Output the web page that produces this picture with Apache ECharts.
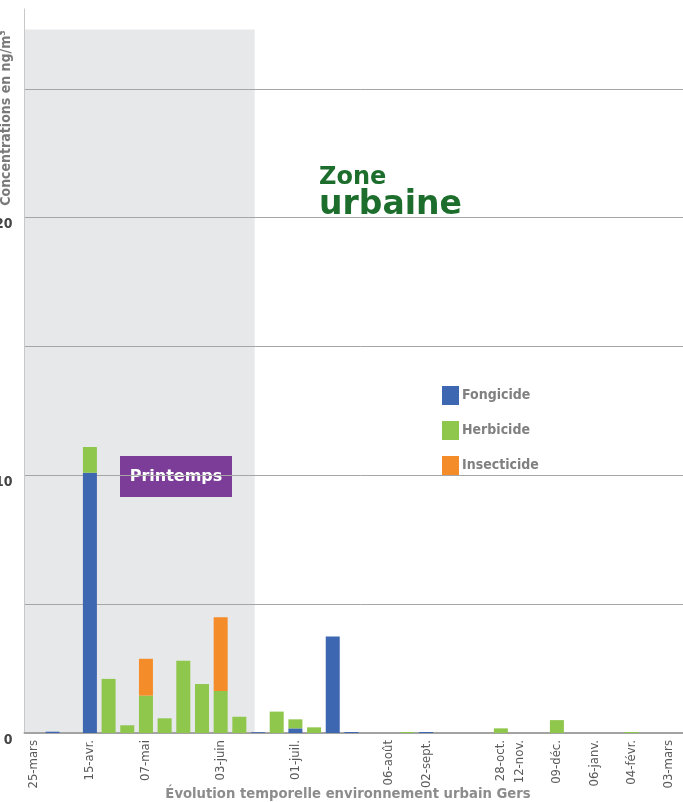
<!DOCTYPE html>
<html><head><meta charset="utf-8">
<script src="https://cdn.jsdelivr.net/npm/echarts@6/dist/echarts.min.js"></script>
<style>html,body{margin:0;padding:0;overflow:hidden;background:#fff;width:683px;height:802px}
#c{position:absolute;left:-8px;top:0;width:705px;height:802px}</style>
</head><body><div id="c"></div>
<script>
// 36 sampling slots (the last one falls outside the visible crop)
const categories = Array.from({length: 36}, (_, i) => 'c' + i);
const tickLabels = ['25-mars','','','15-avr.','','','07-mai','','','','03-juin','','','','01-juil.','','','','','06-août','','02-sept.','','','','28-oct.','12-nov.','','09-déc.','','06-janv.','','04-févr.','','03-mars',''];
const fongicide   = [0,0.05,0,10.1,0,0,0,0,0,0,0,0,0.03,0,0.18,0,3.75,0.04,0,0,0,0.04,0,0,0,0,0,0,0,0,0,0,0,0,0,null];
const herbicide   = [0,0,0,1.0,2.1,0.3,1.45,0.57,2.8,1.9,1.63,0.63,0,0.83,0.35,0.22,0,0,0,0,0.04,0,0,0,0,0.18,0,0,0.5,0,0,0,0.04,0,0,null];
const insecticide = [0,0,0,0,0,0,1.43,0,0,0,2.86,0,0,0,0,0,0,0,0,0,0,0,0,0,0,0,0,0,0,0,0,0,0,0,0,null];
const seriesNames = ['Fongicide','Herbicide','Insecticide'];
const colors = ['#3d67b1','#8fc64c','#f48c29'];
const springSpan = [0, 12.32];   // spring shading, in category-slot units
const springTop = 27.3;
const yMax = 28.1;

const chart = echarts.init(document.getElementById('c'));
const AX = 'DejaVu Sans Condensed, DejaVu Sans, sans-serif';
chart.setOption({
  animation: false,
  grid: {left: 30, right: 0, top: 9, bottom: 69, containLabel: false},
  legend: {
    data: seriesNames, orient: 'vertical', left: 445, top: 381,
    icon: 'rect', itemWidth: 17, itemHeight: 19, itemGap: 16,
    textStyle: {fontFamily: AX, fontSize: 14, fontWeight: 'bold', color: '#808080', padding: [0, 0, 0, -2]}
  },
  xAxis: [{
    type: 'category', data: categories,
    axisTick: {show: false},
    axisLine: {lineStyle: {color: '#a3a3a3', width: 2}},
    axisLabel: {interval: 0, rotate: 90, margin: 7, fontFamily: AX, fontSize: 13, color: '#5a5a5a',
      formatter: (v, i) => tickLabels[i]}
  }, {
    type: 'value', min: 0, max: categories.length, show: false
  }],
  yAxis: {
    type: 'value', min: 0, max: yMax, interval: 5,
    axisLine: {show: true, lineStyle: {color: '#c8c8c8', width: 1}},
    axisTick: {show: false},
    splitLine: {show: true, showMaxLine: false, lineStyle: {color: '#a6a6a6', width: 1}},
    axisLabel: {margin: 12, fontFamily: AX, fontSize: 14, fontWeight: 'bold', color: '#454545',
      verticalAlign: 'top',
      formatter: v => (v % 10 === 0 ? String(v) : '')}
  },
  series: [
    {type: 'line', xAxisIndex: 1, data: [], silent: true,
      markArea: {silent: true, z: -1, itemStyle: {color: '#e7e8ea'},
        data: [[{coord: [springSpan[0], 0]}, {coord: [springSpan[1], springTop]}]]}},
    {name: seriesNames[0], type: 'bar', stack: 'a', barWidth: 14, data: fongicide, itemStyle: {color: colors[0]}},
    {name: seriesNames[1], type: 'bar', stack: 'a', barWidth: 14, data: herbicide, itemStyle: {color: colors[1]}},
    {name: seriesNames[2], type: 'bar', stack: 'a', barWidth: 14, data: insecticide, itemStyle: {color: colors[2]}}
  ],
  graphic: [
    {type: 'text', x: 14, y: 118, rotation: Math.PI / 2,
      style: {text: 'Concentrations en ng/m³', fontFamily: AX, fontSize: 14, fontWeight: 'bold', fill: '#7a7a7a', align: 'center', verticalAlign: 'middle'}},
    {type: 'text', x: 356, y: 794,
      style: {text: 'Évolution temporelle environnement urbain Gers', fontFamily: AX, fontSize: 14.7, fontWeight: 'bold', fill: '#8c8c8c', align: 'center', verticalAlign: 'middle'}},
    {type: 'text', x: 327, y: 178,
      style: {text: 'Zone', fontFamily: 'DejaVu Sans', fontSize: 24, fontWeight: 'bold', fill: '#1d6e2d', align: 'left', verticalAlign: 'middle'}},
    {type: 'text', x: 327, y: 205,
      style: {text: 'urbaine', fontFamily: 'DejaVu Sans', fontSize: 33, fontWeight: 'bold', fill: '#1d6e2d', align: 'left', verticalAlign: 'middle'}},
    {type: 'group', x: 128, y: 456, children: [
      {type: 'rect', shape: {x: 0, y: 0, width: 112, height: 41}, style: {fill: '#7b3d97'}},
      {type: 'text', x: 56, y: 21, style: {text: 'Printemps', fontFamily: 'DejaVu Sans', fontSize: 16, fontWeight: 'bold', fill: '#ffffff', align: 'center', verticalAlign: 'middle'}}
    ]}
  ]
});
</script></body></html>
